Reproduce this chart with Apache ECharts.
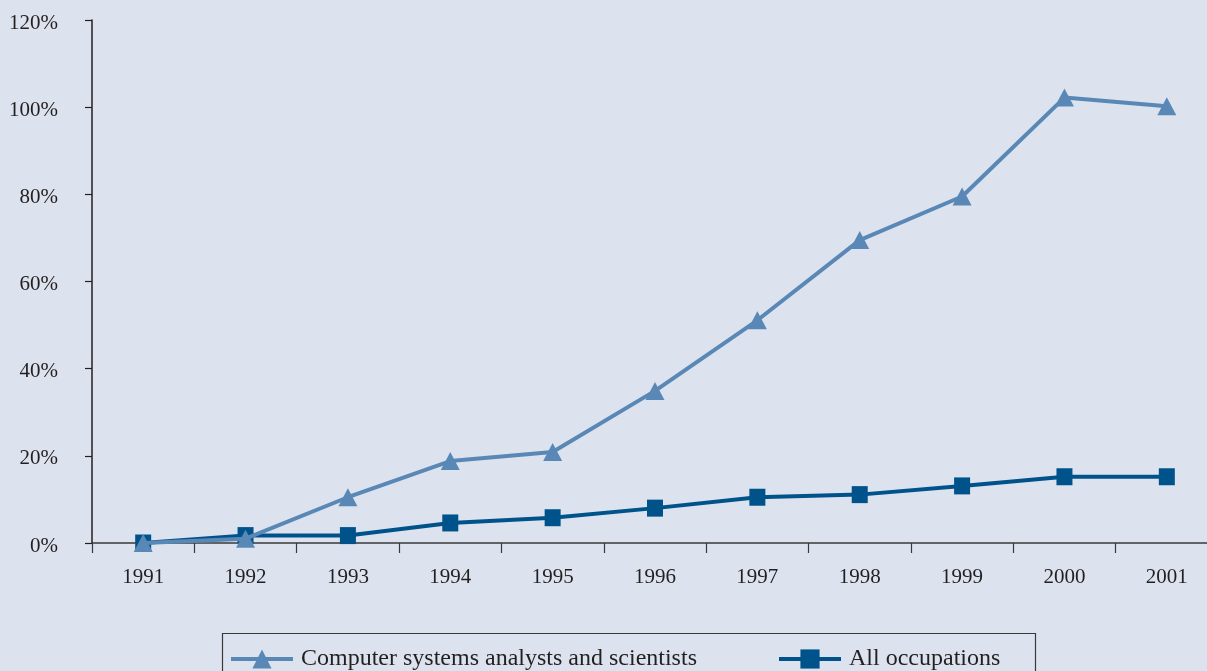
<!DOCTYPE html>
<html>
<head>
<meta charset="utf-8">
<style>
  html, body { margin: 0; padding: 0; background: #dde3ee; overflow: hidden; }
  #chart { width: 1222px; height: 671px; }
</style>
<script src="https://cdn.jsdelivr.net/npm/echarts@6/dist/echarts.min.js"></script>
</head>
<body>
<div id="chart"></div>
<script>
// Cumulative employment growth since 1991, in percent
const years = ['1991', '1992', '1993', '1994', '1995', '1996', '1997', '1998', '1999', '2000', '2001'];
const computerGrowth = [0, 1, 10.5, 18.8, 20.9, 34.9, 51.1, 69.5, 79.5, 102.2, 100.2];
const allGrowth = [0, 1.7, 1.7, 4.6, 5.8, 8.0, 10.5, 11.1, 13.1, 15.2, 15.2];
const seriesNames = ['Computer systems analysts and scientists', 'All occupations'];

const FONT = '"Liberation Serif", "Times New Roman", serif';
const TEXT = '#231f20';
const LIGHT = '#5a88b6';
const DARK = '#00538a';

const chart = echarts.init(document.getElementById('chart'), null, { renderer: 'canvas' });

const legendBase = {
  itemWidth: 62, itemHeight: 24, itemGap: 0,
  textStyle: { fontFamily: FONT, fontSize: 24, color: TEXT, padding: [0, 0, 0, 3] }
};

chart.setOption({
  backgroundColor: '#dde3ee',
  animation: false,
  // the plot runs a little past the right edge of the visible page
  grid: { left: 92, right: 4, top: 20, bottom: 128 },
  xAxis: {
    type: 'category',
    data: years,
    boundaryGap: true,
    axisLine: { lineStyle: { color: '#3a3a3a', width: 1.5 } },
    axisTick: { show: true, length: 10, lineStyle: { color: '#3a3a3a', width: 1.2 } },
    axisLabel: { margin: 24, fontFamily: FONT, fontSize: 21, color: TEXT }
  },
  yAxis: {
    type: 'value',
    min: 0,
    max: 120,
    interval: 20,
    splitLine: { show: false },
    axisLine: { show: true, lineStyle: { color: '#231f20', width: 1.5 } },
    axisTick: { show: true, length: 7, lineStyle: { color: '#231f20', width: 1.2 } },
    axisLabel: {
      margin: 34, fontFamily: FONT, fontSize: 21, color: TEXT,
      verticalAlign: 'top', lineHeight: 6, formatter: '{value}%'
    }
  },
  legend: [
    Object.assign({}, legendBase, {
      data: [seriesNames[0]],
      left: 224, top: 642,
      lineStyle: { width: 4, color: LIGHT }
    }),
    Object.assign({}, legendBase, {
      data: [seriesNames[1]],
      left: 772, top: 642,
      lineStyle: { width: 4, color: DARK }
    })
  ],
  graphic: [
    {
      type: 'rect',
      shape: { x: 222.5, y: 633.5, width: 813, height: 60 },
      style: { fill: 'transparent', stroke: '#3a3a3a', lineWidth: 1.2 },
      silent: true
    }
  ],
  series: [
    {
      name: seriesNames[1],
      type: 'line',
      data: allGrowth,
      symbol: 'rect',
      symbolSize: [16, 17],
      color: DARK,
      lineStyle: { color: DARK, width: 4 },
      itemStyle: { color: DARK },
      z: 2
    },
    {
      name: seriesNames[0],
      type: 'line',
      data: computerGrowth,
      symbol: 'triangle',
      symbolSize: [19, 18],
      color: LIGHT,
      lineStyle: { color: LIGHT, width: 4 },
      itemStyle: { color: LIGHT },
      z: 3
    }
  ]
});
</script>
</body>
</html>
